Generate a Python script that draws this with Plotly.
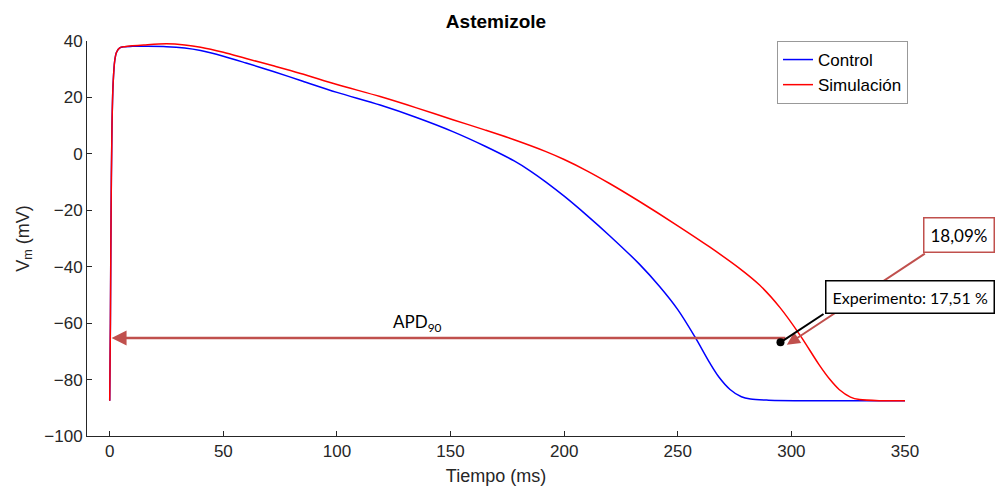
import plotly.graph_objects as go

# ---- data ----
t_control = [0, 0.3, 0.6, 1.0, 1.5, 2.2, 3.0, 4.4, 6.6, 10, 15, 25, 33, 40, 50, 60, 72, 84,
             100, 119, 135, 151, 165, 178, 185, 192, 200, 210, 220, 233, 242, 250, 257.5,
             264, 268, 273, 278, 282, 290, 310, 350]
v_control = [-87.5, -60, -20, 10, 25, 33, 36, 37.6, 38, 38.1, 38.1, 38.0, 37.5, 36.6, 34.6,
             32.2, 29.2, 26, 21.8, 17.3, 12.9, 7.9, 2.8, -2.5, -6, -10, -15, -21.8, -29,
             -39, -47, -55.2, -64.8, -74, -79, -83.5, -86.1, -86.9, -87.3, -87.5, -87.5]

t_sim = [0, 0.3, 0.6, 1.0, 1.5, 2.2, 3.0, 4.4, 6.6, 10, 15, 25, 33, 40, 50, 60, 72, 84, 100,
         119, 135, 151, 165, 178, 192, 200, 210, 220, 233, 250, 264, 277, 286, 295, 304, 312,
         317, 321, 326, 330, 340, 350]
v_sim = [-87.5, -60, -20, 10, 25, 33, 36, 37.6, 38, 38.3, 38.6, 39, 38.6, 37.8, 36, 33.8, 31.2,
         28.5, 24.6, 20.3, 16.3, 12.1, 8.5, 5, 0.8, -2, -6, -10.5, -16.8, -25.5, -33, -40.5,
         -46.5, -54.5, -64.5, -74.5, -80, -83.5, -86.2, -87.1, -87.5, -87.5]

series_names = ["Control", "Simulación"]
series_colors = ["#0000ff", "#ff0000"]

x_ticks = [0, 50, 100, 150, 200, 250, 300, 350]
y_ticks = [-100, -80, -60, -40, -20, 0, 20, 40]

apd_start_t, apd_end_t, apd_v = 0.8, 298, -65.3
exp_point = (295.2, -66.8)
sim_label = "18,09%"
exp_label = "Experimento: 17,51 %"

# ---- figure ----
fig = go.Figure()
fig.add_trace(go.Scatter(x=t_control, y=v_control, mode="lines", name=series_names[0],
                         line=dict(color=series_colors[0], width=1.5, shape="spline",
                                   smoothing=0.9)))
fig.add_trace(go.Scatter(x=t_sim, y=v_sim, mode="lines", name=series_names[1],
                         line=dict(color=series_colors[1], width=1.5, shape="spline",
                                   smoothing=0.9)))

annot_red = "#c0504d"
# APD90 arrow
fig.add_annotation(x=apd_start_t, y=apd_v, ax=apd_end_t, ay=apd_v, xref="x", yref="y",
                   axref="x", ayref="y", text="", showarrow=True, arrowhead=2,
                   arrowsize=1.2, arrowwidth=2.5, arrowcolor=annot_red)
fig.add_annotation(x=123.7, y=-60, xref="x", yref="y", text="APD<sub>90</sub>",
                   showarrow=False, xanchor="left", yanchor="middle",
                   font=dict(family="Lato", size=17, color="#000000"))
# red callout (simulation)
fig.add_annotation(x=298, y=-67.7, ax=359.4, ay=-35.0, xref="x", yref="y",
                   axref="x", ayref="y", text="", showarrow=True, arrowhead=2,
                   arrowsize=1.3, arrowwidth=2, arrowcolor=annot_red)
fig.add_annotation(x=1.066, y=0.5076, xref="paper", yref="paper", text=sim_label,
                   showarrow=False, xanchor="center", yanchor="middle",
                   bgcolor="white", bordercolor=annot_red, borderwidth=1.5, borderpad=6,
                   font=dict(family="Lato", size=17, color="#000000"))
# black callout (experiment)
fig.add_annotation(x=exp_point[0], y=exp_point[1], ax=314.8, ay=-56.4, xref="x", yref="y",
                   axref="x", ayref="y", text="", showarrow=True, arrowhead=6,
                   arrowsize=1, arrowwidth=2, arrowcolor="#000000")
fig.add_annotation(x=1.006, y=0.352, xref="paper", yref="paper", text=exp_label,
                   showarrow=False, xanchor="center", yanchor="middle",
                   bgcolor="white", bordercolor="#000000", borderwidth=1.5, borderpad=6,
                   font=dict(family="Lato", size=16, color="#000000"))

axis_col = "#262626"
fig.update_layout(
    width=997, height=486,
    margin=dict(l=87, r=92, t=41, b=50, autoexpand=False),
    paper_bgcolor="white", plot_bgcolor="white",
    font=dict(family="Liberation Sans, Arial, sans-serif", size=17, color=axis_col),
    title=dict(text="<b>Astemizole</b>", x=0.4975, xanchor="center", y=0.957,
               yanchor="middle", yref="container",
               font=dict(size=19, color="#000000")),
    legend=dict(x=0.8435, y=1.0, xanchor="left", yanchor="top",
                bordercolor="#999999", borderwidth=1, bgcolor="white",
                font=dict(size=17, color="#000000"), itemwidth=30,
                tracegroupgap=0),
    xaxis=dict(range=[-10, 350], tickvals=x_ticks, showgrid=False, zeroline=False,
               showline=True, linecolor=axis_col, linewidth=1, automargin=False,
               ticks="inside", ticklen=5, tickcolor=axis_col,
               title=dict(text="Tiempo (ms)", font=dict(size=18, color=axis_col), standoff=8)),
    yaxis=dict(range=[-100, 40], tickvals=y_ticks, showgrid=False, zeroline=False,
               showline=True, linecolor=axis_col, linewidth=1, automargin=False,
               ticks="inside", ticklen=5, tickcolor=axis_col,
               title=dict(text="V<sub>m</sub> (mV)", font=dict(size=18, color=axis_col), standoff=10)),
)

fig.write_html("out.html")
